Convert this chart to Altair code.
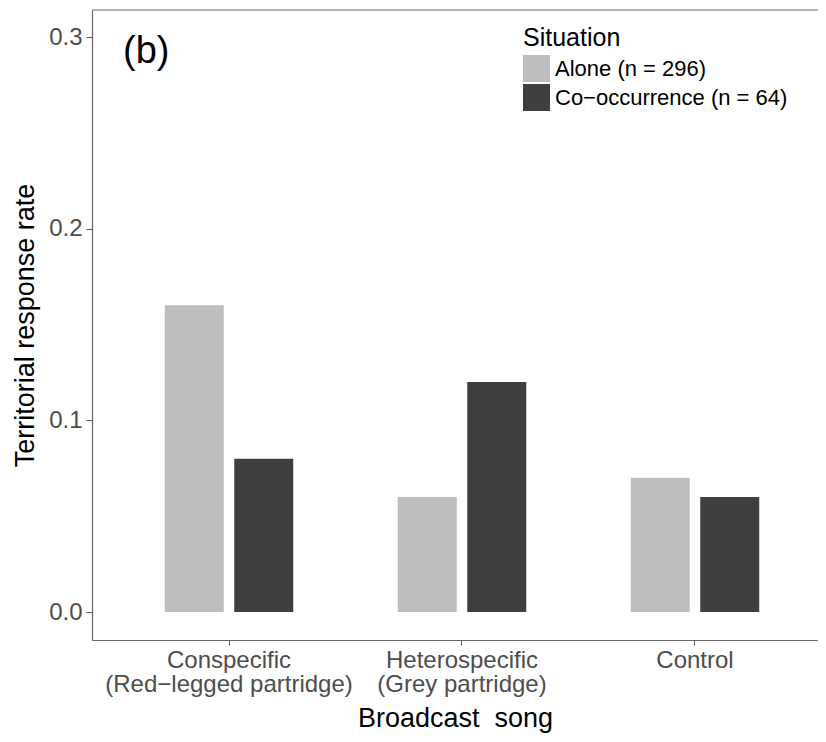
import altair as alt
import pandas as pd

songs = ["Conspecific\n(Red\u2212legged partridge)", "Heterospecific\n(Grey partridge)", "Control"]
situations = ["Alone (n = 296)", "Co\u2212occurrence (n = 64)"]
alone_rates = [0.16, 0.06, 0.07]
cooc_rates = [0.08, 0.12, 0.06]
y_ticks = [0.0, 0.1, 0.2, 0.3]
y_min, y_max = -0.0146, 0.3141

rows = []
for s, a, c in zip(songs, alone_rates, cooc_rates):
    rows.append({"song": s, "situation": situations[0], "rate": a})
    rows.append({"song": s, "situation": situations[1], "rate": c})
df = pd.DataFrame(rows)

FONT = "Liberation Sans"

x_scale = alt.Scale(domain=songs, paddingInner=0, paddingOuter=0.058, align=0.759)
y_scale = alt.Scale(domain=[y_min, y_max], nice=False, zero=False)

bars = alt.Chart(df).mark_bar().encode(
    x=alt.X("song:N", scale=x_scale, sort=songs,
            axis=alt.Axis(title="Broadcast\u00a0 song", labelAngle=0,
                          labelExpr="split(datum.label, '\\n')",
                          labelFontSize=24, labelColor="#4d4d4d", labelFont=FONT,
                          labelLineHeight=24, labelPadding=3, labelLimit=0,
                          titleFontSize=27, titleFont=FONT, titleFontWeight="normal",
                          titleColor="#000000", titlePadding=9,
                          tickSize=5, tickColor="#555555", domainColor="#666666",
                          domainWidth=1.2, grid=False, labelBaseline="top")),
    xOffset=alt.XOffset("situation:N", sort=situations,
                        scale=alt.Scale(paddingInner=0.151, paddingOuter=0.752)),
    y=alt.Y("rate:Q", scale=y_scale,
            axis=alt.Axis(title="Territorial response rate", values=y_ticks, format=".1f",
                          labelFontSize=24, labelColor="#4d4d4d", labelFont=FONT,
                          labelPadding=4,
                          titleFontSize=27, titleFont=FONT, titleFontWeight="normal",
                          titleColor="#000000", titlePadding=9,
                          tickSize=6, tickColor="#555555", domainColor="#666666",
                          domainWidth=1.2, grid=False)),
    y2=alt.datum(0),
    color=alt.Color("situation:N", sort=situations,
                    scale=alt.Scale(domain=situations, range=["#bebebe", "#3f3f3f"]),
                    legend=alt.Legend(title="Situation", orient="none",
                                      legendX=431, legendY=16,
                                      symbolType="square", symbolSize=729,
                                      symbolStrokeWidth=0, symbolOpacity=1,
                                      labelFontSize=22, labelFont=FONT, labelColor="#000000",
                                      labelLimit=0,
                                      titleFontSize=25, titleFont=FONT,
                                      titleFontWeight="normal", titleColor="#000000",
                                      titlePadding=4, rowPadding=2, labelOffset=5)),
)

top_line = alt.Chart(pd.DataFrame({"v": [y_max]})).mark_rule(
    color="#666666", strokeWidth=1.2
).encode(y=alt.Y("v:Q", scale=y_scale))

panel = alt.Chart(pd.DataFrame({"t": ["(b)"]})).mark_text(
    fontSize=38, font=FONT, color="#000000", align="left", baseline="middle"
).encode(text="t:N", x=alt.value(31), y=alt.value(42))

chart = alt.layer(bars, top_line, panel).properties(
    width=726, height=630,
    autosize=alt.AutoSizeParams(type="none"),
    padding={"left": 84, "top": 2, "right": 0, "bottom": 94}
).configure_view(stroke=None)

chart.save("out.html", embed_options={"renderer": "svg", "actions": False})
